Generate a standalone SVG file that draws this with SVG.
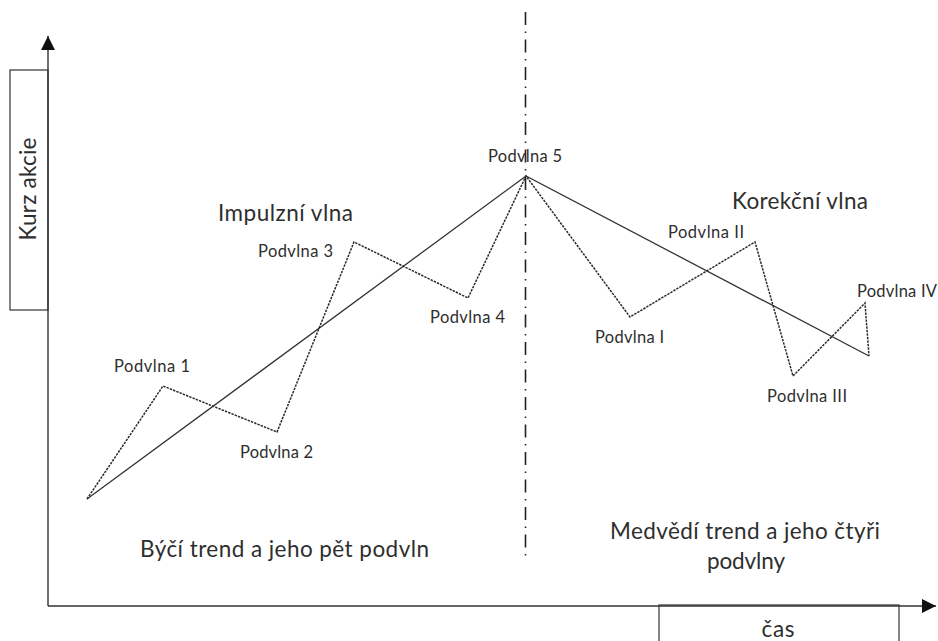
<svg xmlns="http://www.w3.org/2000/svg" width="938" height="641" viewBox="0 0 938 641">
  <style>
    text { font-family: Lato, "Open Sans", "Liberation Sans", sans-serif; fill: #2e2e2e; }
    .s { font-size: 16.5px; }
    .b { font-size: 22.5px; }
    .ax { stroke: #333; stroke-width: 1.4; fill: none; }
    .box { stroke: #333; stroke-width: 1.2; fill: #fff; }
    .solid { stroke: #333; stroke-width: 1.3; fill: none; }
    .dot { stroke: #2a2a2a; stroke-width: 1.5; fill: none; stroke-dasharray: 2.4 1.1; }
    .dd { stroke: #222; stroke-width: 1.6; fill: none; stroke-dasharray: 13 6.5 1.5 6.5; }
  </style>
  <defs>
    <marker id="arr" viewBox="0 0 10 10" refX="10" refY="5" markerWidth="14" markerHeight="14" markerUnits="userSpaceOnUse" orient="auto">
      <path d="M0,0 L10,5 L0,10 Z" fill="#111"/>
    </marker>
  </defs>
  <rect width="938" height="641" fill="#fff"/>

  <g id="y-label">
    <rect class="box" x="10" y="70" width="38" height="240"/>
    <text class="b" transform="translate(36,189) rotate(-90)" text-anchor="middle" textLength="103">Kurz akcie</text>
  </g>
  <g id="x-label">
    <rect class="box" x="659" y="605" width="240" height="50"/>
    <text class="b" x="778" y="637" text-anchor="middle" textLength="33">čas</text>
  </g>

  <g id="axes">
    <line class="ax" x1="48" y1="606" x2="48" y2="36" marker-end="url(#arr)"/>
    <line class="ax" x1="48" y1="606" x2="936" y2="606" marker-end="url(#arr)"/>
  </g>

  <g id="divider">
    <line class="dd" x1="525.5" y1="12" x2="525.5" y2="560"/>
  </g>

  <g id="connectors">
    <polyline class="solid" points="87,499 526,176 869,356"/>
    <polyline class="dot" points="87,499 163,386 277,432 354,242 468,298 526,176 630,317 755,242 793,376 865,303 869,356"/>
  </g>

  <g id="labels">
    <text class="s" x="114" y="372" textLength="76">Podvlna 1</text>
    <text class="s" x="240" y="458" textLength="73">Podvlna 2</text>
    <text class="s" x="258" y="257" textLength="75">Podvlna 3</text>
    <text class="s" x="430" y="323" textLength="75">Podvlna 4</text>
    <text class="s" x="488" y="162" textLength="74">Podvlna 5</text>
    <text class="s" x="595" y="343" textLength="69">Podvlna I</text>
    <text class="s" x="668" y="238" textLength="76">Podvlna II</text>
    <text class="s" x="767" y="402" textLength="80">Podvlna III</text>
    <text class="s" x="857" y="297" textLength="80">Podvlna IV</text>
    <text class="b" x="218" y="221" textLength="135">Impulzní vlna</text>
    <text class="b" x="732" y="209" textLength="136">Korekční vlna</text>
    <text class="b" x="140" y="557" textLength="289">Býčí trend a jeho pět podvln</text>
    <text class="b" x="745" y="539" text-anchor="middle" textLength="270">Medvědí trend a jeho čtyři</text>
    <text class="b" x="746" y="569" text-anchor="middle" textLength="78">podvlny</text>
  </g>
</svg>
